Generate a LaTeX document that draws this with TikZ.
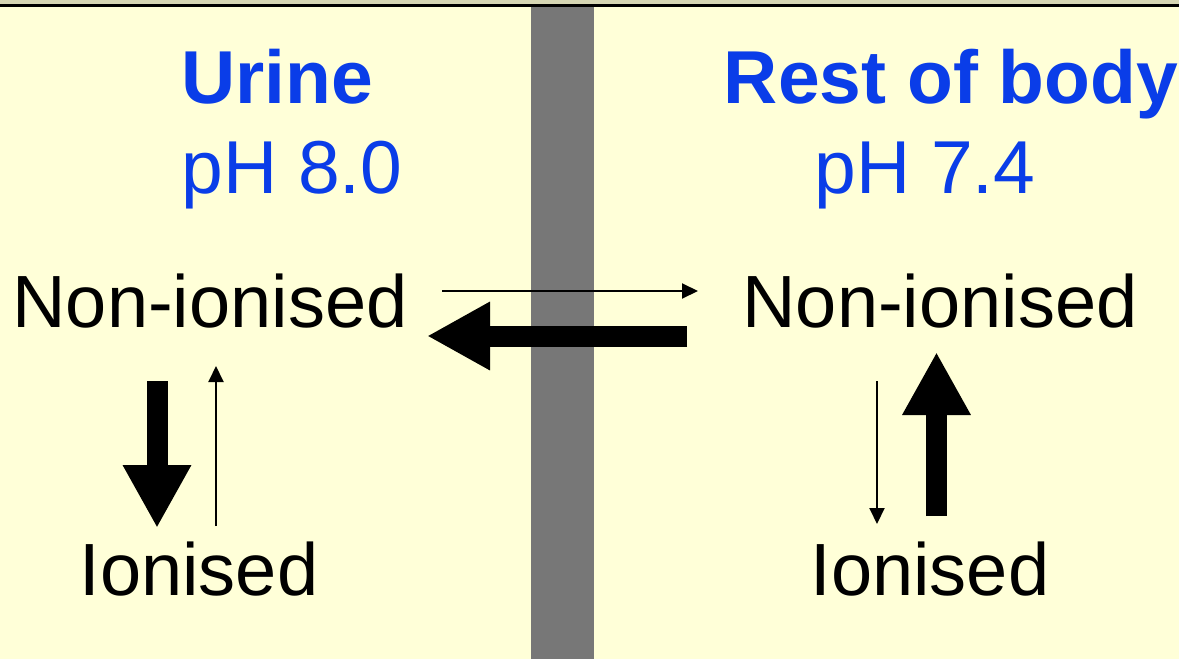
\documentclass[tikz,border=0pt]{standalone}
\usepackage{fontspec}
\setmainfont{Liberation Sans}
\usetikzlibrary{arrows.meta}
\definecolor{bgyellow}{RGB}{255,255,216}
\definecolor{topband}{RGB}{214,214,180}
\definecolor{bargray}{RGB}{119,119,119}
\definecolor{titleblue}{RGB}{10,61,232}
\tikzset{
  title/.style={anchor=base, inner sep=0pt, text=titleblue, font=\fontsize{75}{80}\selectfont\bfseries},
  phlabel/.style={anchor=base, inner sep=0pt, text=titleblue, font=\fontsize{75}{80}\selectfont},
  state/.style={anchor=base, inner sep=0pt, text=black, font=\fontsize{74}{80}\selectfont},
  thinarrow/.style={line width=2pt, -{Triangle[width=15pt,length=16pt]}},
  thickarrow/.style={line width=21pt, line cap=butt, -{Triangle[width=64pt,length=63pt]}}
}
\begin{document}
\begin{tikzpicture}[x=1pt,y=-1pt]
\useasboundingbox (0,0) rectangle (1179,659);
\fill[bgyellow] (0,0) rectangle (1179,659);
\fill[topband] (0,0) rectangle (1179,4);
\fill[black] (0,4) rectangle (1179,7);
\fill[bargray] (531,7) rectangle (594,659);

\node[title] (urine) at (277,103) {Urine};
\node[phlabel] (ph8) at (292,193) {pH 8.0};
\node[title] (rest) at (951,103) {Rest of body};
\node[phlabel] (ph7) at (925,193) {pH 7.4};

\node[state] (nonL) at (210,327) {Non-ionised};
\node[state] (nonR) at (940,327) {Non-ionised};
\node[state] (ionL) at (199,595) {Ionised};
\node[state] (ionR) at (930,595) {Ionised};

% membrane transfer
\coordinate (aS) at (442,291);
\coordinate (aE) at (698,291);
\coordinate (bS) at (687,336);
\coordinate (bE) at (427,336);
\draw[thinarrow] (aS) -- (aE);
\draw[thickarrow] (bS) -- (bE);

% left equilibrium
\coordinate (cS) at (157,381);
\coordinate (cE) at (157,528);
\coordinate (dS) at (216,526);
\coordinate (dE) at (216,366);
\draw[thickarrow] (cS) -- (cE);
\draw[thinarrow] (dS) -- (dE);

% right equilibrium
\coordinate (eS) at (877,381);
\coordinate (eE) at (877,524);
\coordinate (fS) at (936.5,516);
\coordinate (fE) at (936.5,352);
\draw[thinarrow] (eS) -- (eE);
\draw[thickarrow] (fS) -- (fE);
\end{tikzpicture}
\end{document}
